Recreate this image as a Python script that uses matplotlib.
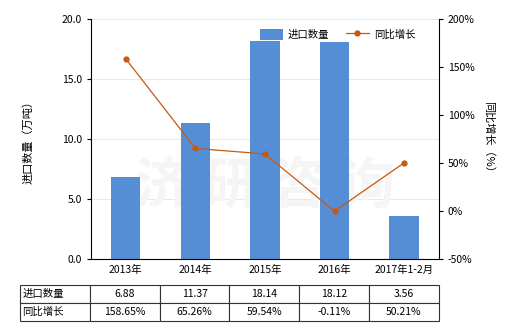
import matplotlib
matplotlib.use("Agg")
import matplotlib.pyplot as plt

plt.rcParams['font.family'] = ['Noto Sans CJK SC', 'DejaVu Sans']

categories = ["2013年", "2014年", "2015年", "2016年", "2017年1-2月"]
volume = [6.88, 11.37, 18.14, 18.12, 3.56]
growth = [158.65, 65.26, 59.54, -0.11, 50.21]
volume_labels = ["6.88", "11.37", "18.14", "18.12", "3.56"]
growth_labels = ["158.65%", "65.26%", "59.54%", "-0.11%", "50.21%"]

bar_color = "#558ED5"
line_color = "#C55A11"
fs = 7.5

fig = plt.figure(figsize=(5.2, 3.3), dpi=100)
ax = fig.add_axes([0.175, 0.215, 0.669, 0.727])
ax2 = ax.twinx()

x = list(range(len(categories)))
ax.bar(x, volume, width=0.42, color=bar_color, zorder=2, label="进口数量")
ax2.plot(x, growth, "-o", color=line_color, lw=0.9, ms=3.5, zorder=3, label="同比增长")

ax.set_xlim(-0.5, len(categories) - 0.5)
ax.set_ylim(0, 20)
ax.set_yticks([0, 5, 10, 15, 20])
ax.set_yticklabels([f"{v:.1f}" for v in [0, 5, 10, 15, 20]], fontsize=fs)
ax2.set_ylim(-50, 200)
ax2.set_yticks([-50, 0, 50, 100, 150, 200])
ax2.set_yticklabels([f"{v}%" for v in [-50, 0, 50, 100, 150, 200]], fontsize=fs)
ax.set_xticks(x)
ax.set_xticklabels(categories, fontsize=fs)
ax.tick_params(axis="x", length=0, pad=4)
ax.tick_params(axis="y", length=3, width=0.8)
ax2.tick_params(axis="y", length=3, width=0.8)
ax.grid(axis="y", color="#DDE8E8", lw=0.6, zorder=0)
ax.set_axisbelow(True)

for a in (ax, ax2):
    a.spines["top"].set_visible(False)
ax.spines["right"].set_visible(False)
ax2.spines["left"].set_visible(False)
ax2.spines["bottom"].set_visible(False)

ax.set_ylabel("进口数量（万吨）", fontsize=8, labelpad=20)
ax2.set_ylabel("同比增长（%）", fontsize=8, rotation=270, labelpad=14)

# watermark
ax.text(0.5, 0.3, "济 研 咨 询", transform=ax.transAxes, fontsize=40,
        color="#F5F5F5", ha="center", va="center", zorder=1, fontweight="bold")

h1, l1 = ax.get_legend_handles_labels()
h2, l2 = ax2.get_legend_handles_labels()
ax2.legend(h1 + h2, l1 + l2, loc="upper right", bbox_to_anchor=(0.96, 1.0),
           ncol=2, frameon=False, fontsize=fs, handlelength=2.2,
           handleheight=1.3, columnspacing=1.6, handletextpad=0.5)

cell_text = [["进口数量"] + volume_labels, ["同比增长"] + growth_labels]
tbl = ax.table(cellText=cell_text, cellLoc="center", colWidths=[0.2] * 6,
               bbox=[-0.204, -0.258, 1.204, 0.15])
tbl.auto_set_font_size(False)
tbl.set_fontsize(fs)
for (r, c), cell in tbl.get_celld().items():
    cell.set_linewidth(0.8)
    cell.set_edgecolor("#333333")
    if c == 0:
        cell.set_text_props(ha="left")
        cell.PAD = 0.03

fig.savefig("out.png", dpi=100)
